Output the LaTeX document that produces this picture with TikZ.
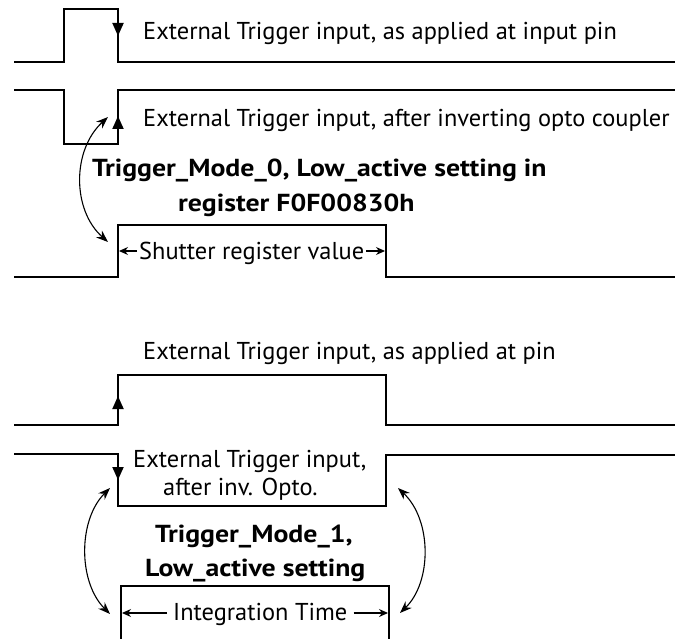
\documentclass[tikz,border=0pt]{standalone}
\usepackage{fontspec}
\setmainfont{PT Sans}
\newfontfamily\widebold{PT Sans}[FakeStretch=1.13]
\usetikzlibrary{arrows.meta}
\begin{document}
\begin{tikzpicture}[x=1pt,y=-1pt,
  sig/.style={line width=1.8pt, line join=miter},
  edgearr/.style={line width=1.8pt, -{Triangle[length=13pt,width=11pt]}},
  dimarr/.style={line width=1.2pt, -{Stealth[length=9pt,width=8pt]}},
  curv/.style={line width=1.1pt, {Stealth[length=12pt,width=9pt]}-{Stealth[length=12pt,width=9pt]}},
  lbl/.style={anchor=base west, inner sep=0pt, font=\fontsize{24.4}{29}\selectfont},
  blbl/.style={anchor=base west, inner sep=0pt, font=\fontsize{24.6}{29}\widebold\bfseries}]
\useasboundingbox (0,0) rectangle (675,639);
% ---------- upper diagram ----------
\draw[sig] (14,62) -- (64,62) -- (64,9) -- (118,9) -- (118,62) -- (675,62);
\coordinate (a1s) at (118,20); \coordinate (a1e) at (118,36);
\draw[edgearr] (a1s) -- (a1e);
\node[lbl] (t1) at (143,40) {External Trigger input, as applied at input pin};

\draw[sig] (14,90) -- (64,90) -- (64,144) -- (118,144) -- (118,90) -- (675,90);
\coordinate (a2s) at (118,134); \coordinate (a2e) at (118,116);
\draw[edgearr] (a2s) -- (a2e);
\node[lbl] (t2) at (143,127) {External Trigger input, after inverting opto coupler};

\node[blbl] (m0a) at (92,177) {Trigger\_Mode\_0, Low\_active setting in};
\node[blbl] (m0b) at (178,212) {register F0F00830h};

\draw[sig] (14,277) -- (118,277) -- (118,225) -- (386,225) -- (386,277) -- (675,277);
\node[lbl, inner xsep=2pt] (sh) at (137,260) {Shutter register value};
\coordinate (shl) at (119,251); \coordinate (shr) at (385,251);
\draw[dimarr] (sh.west |- shl) -- (shl);
\draw[dimarr] (sh.east |- shr) -- (shr);

\coordinate (c1a) at (108,117); \coordinate (c1b) at (108,242);
\draw[curv] (c1a) .. controls (72,150) and (72,210) .. (c1b);

% ---------- lower diagram ----------
\node[lbl] (t3) at (143,359) {External Trigger input, as applied at pin};
\draw[sig] (14,425) -- (118,425) -- (118,375) -- (386,375) -- (386,425) -- (675,425);
\coordinate (a3s) at (118,414); \coordinate (a3e) at (118,396);
\draw[edgearr] (a3s) -- (a3e);

\draw[sig] (14,454) -- (118,454) -- (118,506) -- (386,506) -- (386,455) -- (675,455);
\coordinate (a4s) at (118,462); \coordinate (a4e) at (118,480);
\draw[edgearr] (a4s) -- (a4e);
\node[lbl] (t4) at (133,467) {External Trigger input,};
\node[lbl] (t5) at (163,495) {after inv. Opto.};

\node[blbl] (m1a) at (155,542) {Trigger\_Mode\_1,};
\node[blbl] (m1b) at (145,576) {Low\_active setting};

\draw[sig] (121,639) -- (121,586) -- (389,586) -- (389,639);
\node[lbl, inner xsep=6pt] (it) at (167,620) {Integration Time};
\coordinate (itl) at (122,613); \coordinate (itr) at (388,613);
\draw[dimarr] (it.west |- itl) -- (itl);
\draw[dimarr] (it.east |- itr) -- (itr);

\coordinate (c2a) at (110,488); \coordinate (c2b) at (110,614);
\draw[curv] (c2a) .. controls (78,520) and (78,582) .. (c2b);
\coordinate (c3a) at (398,488); \coordinate (c3b) at (400,613);
\draw[curv] (c3a) .. controls (432,520) and (432,582) .. (c3b);
\end{tikzpicture}
\end{document}
